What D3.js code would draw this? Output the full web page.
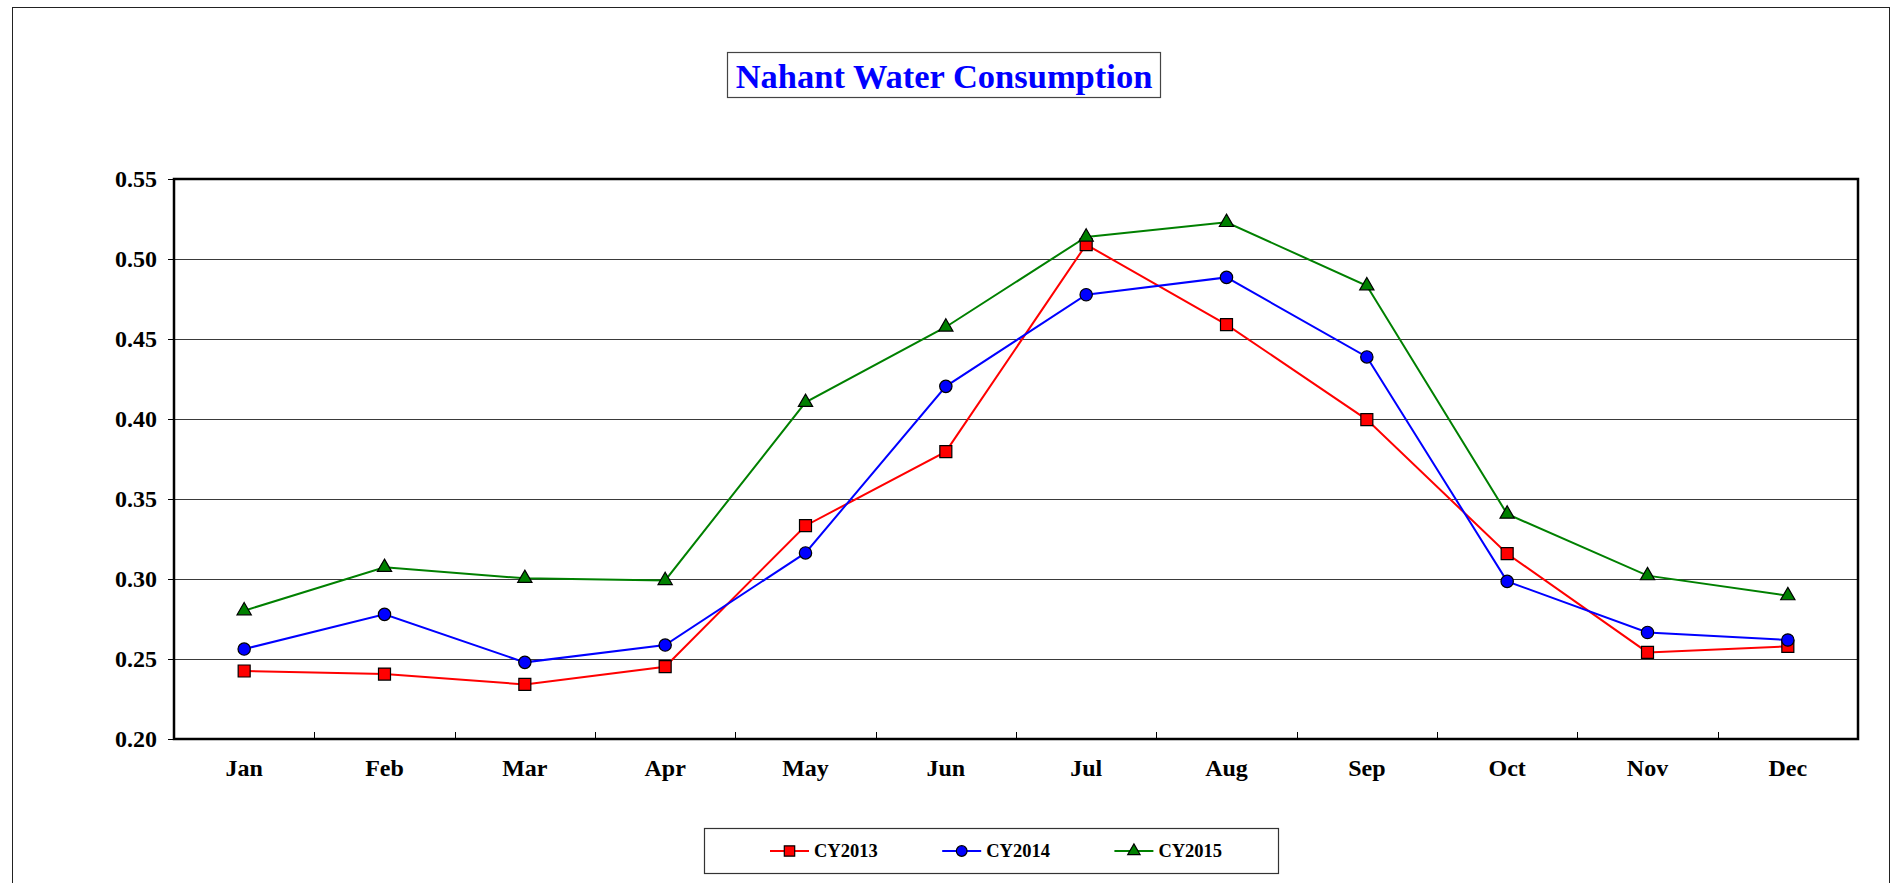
<!DOCTYPE html>
<html>
<head>
<meta charset="utf-8">
<script src="https://cdn.jsdelivr.net/npm/d3@7"></script>
<style>
  body { margin: 0; background: #fff; }
  text { font-family: "Liberation Serif", "Times New Roman", serif; font-weight: bold; }
</style>
</head>
<body>
<svg id="chart" width="1892" height="883"></svg>
<script>
var months = ["Jan", "Feb", "Mar", "Apr", "May", "Jun", "Jul", "Aug", "Sep", "Oct", "Nov", "Dec"];
var cy2013 = [0.2425, 0.2406, 0.2341, 0.2452, 0.3333, 0.3796, 0.509, 0.459, 0.3996, 0.3158, 0.2541, 0.2579];
var cy2014 = [0.2562, 0.2779, 0.2479, 0.2587, 0.3163, 0.4204, 0.4777, 0.4885, 0.4388, 0.2985, 0.2666, 0.2619];
var cy2015 = [0.2802, 0.3073, 0.3004, 0.2991, 0.4104, 0.4575, 0.5138, 0.5229, 0.4833, 0.3406, 0.3021, 0.2896];
var yTicks = [0.20, 0.25, 0.30, 0.35, 0.40, 0.45, 0.50, 0.55];

var series = [
  { name: "CY2013", values: cy2013, color: "#ff0000", symbol: d3.symbolSquare, size: 144 },
  { name: "CY2014", values: cy2014, color: "#0000ff", symbol: d3.symbolCircle, size: 120 },
  { name: "CY2015", values: cy2015, color: "#008000", symbol: d3.symbolTriangle, size: 88 }
];

var svg = d3.select("#chart"),
  margin = { top: 179, left: 174, right: 34, bottom: 144 },
  width = 1892 - margin.left - margin.right,
  height = 883 - margin.top - margin.bottom;

// outer chart border
svg.append("rect")
  .attr("x", 12.5).attr("y", 7.5)
  .attr("width", 1877).attr("height", 900)
  .attr("fill", "none").attr("stroke", "#222").attr("stroke-width", 1);

// title
svg.append("rect")
  .attr("x", 727.5).attr("y", 52.5)
  .attr("width", 433).attr("height", 45)
  .attr("fill", "#fff").attr("stroke", "#444").attr("stroke-width", 1.2);
svg.append("text")
  .attr("x", 944).attr("y", 88)
  .attr("text-anchor", "middle")
  .attr("fill", "#0000ff")
  .style("font-size", "34.5px")
  .text("Nahant Water Consumption");

var x = d3.scaleBand().domain(months).range([0, width]);
var y = d3.scaleLinear().domain([0.20, 0.55]).range([height, 0]);

var g = svg.append("g")
  .attr("transform", "translate(" + margin.left + "," + margin.top + ")");

// gridlines
g.selectAll(".grid")
  .data(yTicks.slice(1, -1))
  .enter().append("line")
  .attr("x1", 0).attr("x2", width)
  .attr("y1", function(d) { return Math.round(y(d)) + 0.5; })
  .attr("y2", function(d) { return Math.round(y(d)) + 0.5; })
  .attr("stroke", "#3a3a3a").attr("stroke-width", 1);

// y axis
var yAxis = g.append("g")
  .call(d3.axisLeft(y).tickValues(yTicks).tickFormat(d3.format(".2f")).tickSize(6).tickSizeOuter(0));
yAxis.select(".domain").remove();
yAxis.selectAll("line").attr("stroke", "#000");
yAxis.selectAll("text")
  .attr("x", -17)
  .attr("fill", "#000")
  .style("font-size", "24px")
  .style("font-family", "'Liberation Serif', 'Times New Roman', serif");

// x axis: category labels + inner ticks on boundaries
g.selectAll(".xlabel")
  .data(months)
  .enter().append("text")
  .attr("x", function(d) { return x(d) + x.bandwidth() / 2; })
  .attr("y", height + 37)
  .attr("text-anchor", "middle")
  .style("font-size", "24px")
  .text(function(d) { return d; });

g.selectAll(".xtick")
  .data(months.slice(1))
  .enter().append("line")
  .attr("x1", function(d) { return Math.round(x(d)) + 0.5; })
  .attr("x2", function(d) { return Math.round(x(d)) + 0.5; })
  .attr("y1", height).attr("y2", height - 7)
  .attr("stroke", "#000");

// plot area border
g.append("rect")
  .attr("x", 0).attr("y", 0)
  .attr("width", width).attr("height", height)
  .attr("fill", "none").attr("stroke", "#000").attr("stroke-width", 2.5);

var line = d3.line()
  .x(function(d, i) { return x(months[i]) + x.bandwidth() / 2; })
  .y(function(d) { return y(d); });

series.forEach(function(s) {
  var sg = g.append("g");
  sg.append("path")
    .datum(s.values)
    .attr("d", line)
    .attr("fill", "none")
    .attr("stroke", s.color)
    .attr("stroke-width", 2);
  sg.selectAll("path.mark")
    .data(s.values)
    .enter().append("path")
    .attr("class", "mark")
    .attr("transform", function(d, i) {
      return "translate(" + (x(months[i]) + x.bandwidth() / 2) + "," + y(d) + ")";
    })
    .attr("d", d3.symbol().type(s.symbol).size(s.size))
    .attr("fill", s.color)
    .attr("stroke", "#000")
    .attr("stroke-width", 1.2);
});

// legend
svg.append("rect")
  .attr("x", 704.5).attr("y", 828.5)
  .attr("width", 574).attr("height", 45)
  .attr("fill", "#fff").attr("stroke", "#333").attr("stroke-width", 1.2);

var leg = svg.selectAll(".legItem")
  .data(series)
  .enter().append("g")
  .attr("transform", function(d, i) { return "translate(" + (770 + i * 172.2) + ",851)"; });
leg.append("line")
  .attr("x1", 0).attr("x2", 39)
  .attr("stroke", function(d) { return d.color; })
  .attr("stroke-width", 2);
leg.append("path")
  .attr("transform", "translate(19.5,0)")
  .attr("d", function(d) { return d3.symbol().type(d.symbol).size(d.size * 0.75)(); })
  .attr("fill", function(d) { return d.color; })
  .attr("stroke", "#000")
  .attr("stroke-width", 1.2);
leg.append("text")
  .attr("x", 44).attr("y", 6)
  .style("font-size", "18.5px")
  .text(function(d) { return d.name; });
</script>
</body>
</html>
